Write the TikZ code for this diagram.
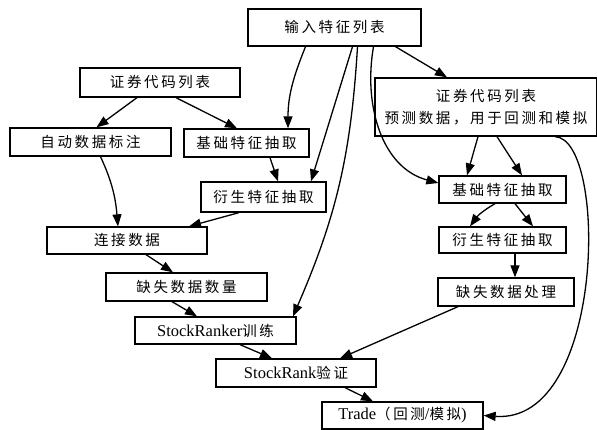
\documentclass[tikz,border=0pt]{standalone}
\usepackage{fontspec}
\setmainfont{Liberation Serif}
\newfontfamily\cjk[LetterSpace=18]{Noto Sans CJK SC}
\usetikzlibrary{arrows.meta}
\newcommand{\lat}[1]{{\fontsize{16.5}{22}\selectfont\rmfamily #1}}

\begin{document}
\begin{tikzpicture}[
	box/.style={
		draw=black,          % black border
		line width=1.3pt,    % border thickness
		rectangle,           % shape
		inner sep=0pt,       % padding
		align=center,
		font=\fontsize{14.5}{22}\selectfont\cjk
	},
	flow/.style={-{Triangle[length=12pt,width=9pt]}, line width=1.3pt}
	]
	\useasboundingbox (0,0) rectangle (597pt,-430pt);
	\begin{scope}[x=1pt,y=1pt]
	% training branch
	\node[box, minimum width=173pt, minimum height=37pt] (feat) at (334.5,-27.5) {输入特征列表};
	\node[box, minimum width=160pt, minimum height=29pt] (codeL) at (160,-82.5) {证券代码列表};
	\node[box, minimum width=161pt, minimum height=28pt] (label) at (90.5,-142) {自动数据标注};
	\node[box, minimum width=125pt, minimum height=28pt] (baseL) at (246.5,-143) {基础特征抽取};
	\node[box, minimum width=125pt, minimum height=30pt] (derivL) at (263.5,-197) {衍生特征抽取};
	\node[box, minimum width=160pt, minimum height=27pt] (join) at (127,-240.5) {连接数据};
	\node[box, minimum width=161pt, minimum height=28pt] (missN) at (186.5,-287) {缺失数据数量};
	\node[box, minimum width=161pt, minimum height=27pt] (train) at (215.5,-330.5) {\lat{StockRanker}训练};
	\node[box, minimum width=160pt, minimum height=28pt] (valid) at (296,-373) {\lat{StockRank}验证};
	\node[box, minimum width=161pt, minimum height=27pt] (trade) at (402.5,-415.5) {\lat{Trade}（回测\lat{/}模拟\lat{)}};
	% prediction branch
	\node[box, minimum width=222pt, minimum height=58pt] (codeR) at (486,-107) {证券代码列表\\预测数据，用于回测和模拟};
	\node[box, minimum width=127pt, minimum height=27pt] (baseR) at (502.5,-189.5) {基础特征抽取};
	\node[box, minimum width=127pt, minimum height=26pt] (derivR) at (502.5,-240) {衍生特征抽取};
	\node[box, minimum width=136pt, minimum height=28pt] (missP) at (506,-292) {缺失数据处理};

	% connectors
	\draw[flow] ([xshift=61pt]feat.south) -- ([xshift=-39pt]codeR.north);
	\draw[flow] ([xshift=-29pt]feat.south) to[out=-112,in=90] ([xshift=41.5pt]baseL.north);
	\draw[flow] ([xshift=18pt]feat.south) -- ([xshift=47.5pt]derivL.north);
	\draw[flow] ([xshift=23pt]feat.south) to[bend left=10] ([xshift=77.5pt]train.north);
	\draw[flow] ([xshift=39pt]feat.south) to[out=-100,in=165] ([yshift=6.5pt]baseR.west);
	\draw[flow] ([xshift=-23pt]codeL.south) -- ([xshift=6pt]label.north);
	\draw[flow] ([xshift=16pt]codeL.south) -- ([xshift=-9.5pt]baseL.north);
	\draw[flow] ([xshift=10pt]label.south) to[out=-65,in=95] ([xshift=-9pt]join.north);
	\draw[flow] ([xshift=23.5pt]baseL.south) -- ([xshift=14.5pt]derivL.north);
	\draw[flow] ([xshift=-24.5pt]derivL.south) -- ([xshift=62pt]join.north);
	\draw[flow] ([xshift=19pt]join.south) -- ([xshift=-13.5pt]missN.north);
	\draw[flow] ([xshift=-14.5pt]missN.south) -- ([xshift=-18.5pt]train.north);
	\draw[flow] ([xshift=24.5pt]train.south) -- ([xshift=-24pt]valid.north);
	\draw[flow] ([xshift=49pt]valid.south) -- ([xshift=-29.5pt]trade.north);
	\draw[flow] ([xshift=-8pt]codeR.south) -- ([xshift=-35.5pt]baseR.north);
	\draw[flow] ([xshift=11pt]codeR.south) -- ([xshift=19.5pt]baseR.north);
	\draw[flow] ([xshift=-7.5pt]baseR.south) to[bend right=12] ([xshift=-32.5pt]derivR.north);
	\draw[flow] ([xshift=12.5pt]baseR.south) -- ([xshift=30.5pt]derivR.north);
	\draw[flow] ([xshift=12.5pt]derivR.south) -- ([xshift=9pt]missP.north);
	\draw[flow] ([xshift=-48pt]missP.south) -- ([xshift=44pt]valid.north);
	\draw[flow] ([xshift=69pt]codeR.south) .. controls +(53,-2) and +(122,-9) .. (trade.east);
	\end{scope}
\end{tikzpicture}
\end{document}
